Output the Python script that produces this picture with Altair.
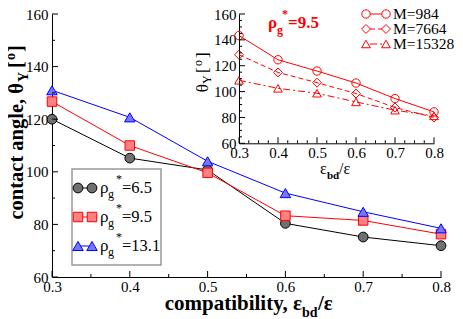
import altair as alt
import pandas as pd

# ---------------- data ----------------
compat = [0.3, 0.4, 0.5, 0.6, 0.7, 0.8]
rho_6_5 = [120.0, 105.2, 100.7, 80.4, 75.2, 71.9]
rho_9_5 = [126.7, 110.0, 99.6, 83.3, 81.5, 76.3]
rho_13_1 = [131.0, 120.7, 104.0, 91.9, 84.8, 78.5]

m_984 = [143.3, 124.6, 115.9, 106.6, 94.6, 84.3]
m_7664 = [128.5, 114.8, 106.9, 98.5, 87.7, 80.0]
m_15328 = [108.7, 102.5, 98.7, 92.0, 85.6, 81.2]

main_y_major = [60, 80, 100, 120, 140, 160]
main_y_minor = [70, 90, 110, 130, 150]
main_x_major = [0.3, 0.4, 0.5, 0.6, 0.7, 0.8]
main_x_minor = [0.35, 0.45, 0.55, 0.65, 0.75]
inset_y_minor = [65, 70, 75, 85, 90, 95, 105, 110, 115, 125, 130, 135, 145, 150, 155]
inset_x_minor = [0.325, 0.35, 0.375, 0.425, 0.45, 0.475, 0.525, 0.55, 0.575,
                 0.625, 0.65, 0.675, 0.725, 0.75, 0.775]

main_labels = ["=6.5", "=9.5", "=13.1"]
inset_labels = ["M=984", "M=7664", "M=15328"]

SERIF = "Liberation Serif, Times New Roman, Times, serif"
W, H = 389, 263
IX0, IX1 = 187, 382        # inset x range (px)
IY0, IY1 = 129.3, 0.0      # inset y range (px, bottom -> top)

dummy = pd.DataFrame({"a": [0]})


def txt(s, x, y, size, bold=False, color="black", angle=0, align="left"):
    return alt.Chart(dummy).mark_text(
        text=s, fontSize=size, fontWeight="bold" if bold else "normal",
        color=color, angle=angle, align=align, baseline="alphabetic", font=SERIF
    ).encode(x=alt.value(x), y=alt.value(y))


# ---------------- main scales / axes ----------------
xs_main = alt.Scale(domain=[0.3, 0.8], nice=False, zero=False)
ys_main = alt.Scale(domain=[60, 160], nice=False, zero=False)
ax_common = dict(ticks=False, tickSize=0, grid=False, title=None, labelFont=SERIF,
                 labelFontSize=15, labelColor="black", domainColor="black",
                 domainWidth=1, labelFlush=False, labelOverlap=False)
ax_x_main = alt.Axis(orient="bottom", values=main_x_major, format=".1f",
                     labelPadding=2, **ax_common)
ax_y_main = alt.Axis(orient="left", values=main_y_major, format="d",
                     labelPadding=4, **ax_common)


def main_series(vals, stroke, fill, shape, size):
    df = pd.DataFrame({"x": compat, "y": vals})
    base = alt.Chart(df).encode(
        x=alt.X("x:Q", scale=xs_main, axis=ax_x_main),
        y=alt.Y("y:Q", scale=ys_main, axis=ax_y_main),
    )
    line = base.mark_line(color=stroke, strokeWidth=1)
    pts = base.mark_point(shape=shape, filled=True, fill=fill, stroke=stroke,
                          strokeWidth=1, size=size, opacity=1)
    return [line, pts]


main_styles = [
    (rho_6_5, "black", "#707070", "circle", 95),
    (rho_9_5, "#ff0000", "#ff8080", "square", 90),
    (rho_13_1, "#0000ff", "#7878ff", "triangle-up", 110),
]

main_layers = []
for vals, st, fl, sh, sz in main_styles:
    main_layers += main_series(vals, st, fl, sh, sz)


def tick_df(vals):
    return pd.DataFrame({"v": vals})


# main ticks (inward)
main_layers.append(alt.Chart(tick_df(main_y_major)).mark_rule(color="black").encode(
    y=alt.Y("v:Q", scale=ys_main, axis=ax_y_main), x=alt.value(0), x2=alt.value(6)))
main_layers.append(alt.Chart(tick_df(main_y_minor)).mark_rule(color="black").encode(
    y=alt.Y("v:Q", scale=ys_main, axis=ax_y_main), x=alt.value(0), x2=alt.value(3)))
main_layers.append(alt.Chart(tick_df(main_x_major)).mark_rule(color="black").encode(
    x=alt.X("v:Q", scale=xs_main, axis=ax_x_main), y=alt.value(H), y2=alt.value(H - 6)))
main_layers.append(alt.Chart(tick_df(main_x_minor)).mark_rule(color="black").encode(
    x=alt.X("v:Q", scale=xs_main, axis=ax_x_main), y=alt.value(H), y2=alt.value(H - 3)))

# main legend
main_layers.append(alt.Chart(dummy).mark_rect(fill="white", stroke="#999999", strokeWidth=1.5).encode(
    x=alt.value(20), x2=alt.value(109), y=alt.value(155), y2=alt.value(251)))
for i, (lab, (vals, st, fl, sh, sz)) in enumerate(zip(main_labels, main_styles)):
    ry = 174 + 29 * i
    main_layers.append(alt.Chart(dummy).mark_rule(color=st, strokeWidth=1).encode(
        x=alt.value(26), x2=alt.value(40), y=alt.value(ry)))
    for mx in (26, 40):
        main_layers.append(alt.Chart(dummy).mark_point(
            shape=sh, filled=True, fill=fl, stroke=st, strokeWidth=1, size=sz, opacity=1
        ).encode(x=alt.value(mx), y=alt.value(ry)))
    main_layers.append(txt("ρ", 48, ry + 5, 17))
    main_layers.append(txt("g", 56, ry + 10, 12))
    main_layers.append(txt("*", 64, ry - 5, 12))
    main_layers.append(txt(lab, 70, ry + 5, 16.5))

# main axis titles
main_layers.append(txt("compatibility, ε", 250, 296, 21, bold=True, align="right"))
main_layers.append(txt("bd", 250, 303, 14, bold=True))
main_layers.append(txt("/ε", 266, 296, 21, bold=True))

main_layers.append(txt("contact angle, θ", -29, 69, 20.5, bold=True, angle=270, align="right"))
main_layers.append(txt("Y", -24, 68, 14, bold=True, angle=270))
main_layers.append(txt("[", -29, 54, 20.5, bold=True, angle=270))
main_layers.append(txt("o", -37, 46, 14, bold=True, angle=270))
main_layers.append(txt("]", -29, 38, 20.5, bold=True, angle=270))

main_group = alt.layer(*main_layers)

# ---------------- inset ----------------
xs_in = alt.Scale(domain=[0.3, 0.8], range=[IX0, IX1], nice=False, zero=False)
ys_in = alt.Scale(domain=[60, 160], range=[IY0, IY1], nice=False, zero=False)
ax_x_in = alt.Axis(orient="bottom", offset=-(H - IY0), values=main_x_major, format=".1f",
                   labelPadding=2, **ax_common)
ax_y_in = alt.Axis(orient="left", offset=-IX0, values=main_y_major, format="d",
                   labelPadding=3, **ax_common)

inset_styles = [
    (m_984, "circle", 70, []),
    (m_7664, "diamond", 80, [5, 3]),
    (m_15328, "triangle-up", 75, [7, 3, 2, 3]),
]
RED = "#ff0000"
inset_layers = []
for vals, sh, sz, dash in inset_styles:
    df = pd.DataFrame({"x": compat, "y": vals})
    base = alt.Chart(df).encode(
        x=alt.X("x:Q", scale=xs_in, axis=ax_x_in),
        y=alt.Y("y:Q", scale=ys_in, axis=ax_y_in),
    )
    if dash:
        inset_layers.append(base.mark_line(color=RED, strokeWidth=1, strokeDash=dash))
    else:
        inset_layers.append(base.mark_line(color=RED, strokeWidth=1))
    inset_layers.append(base.mark_point(shape=sh, filled=False, stroke=RED,
                                        strokeWidth=1, size=sz, opacity=1))

inset_layers.append(alt.Chart(tick_df(main_y_major)).mark_rule(color="black").encode(
    y=alt.Y("v:Q", scale=ys_in, axis=ax_y_in), x=alt.value(IX0), x2=alt.value(IX0 + 6)))
inset_layers.append(alt.Chart(tick_df(inset_y_minor)).mark_rule(color="black").encode(
    y=alt.Y("v:Q", scale=ys_in, axis=ax_y_in), x=alt.value(IX0), x2=alt.value(IX0 + 3)))
inset_layers.append(alt.Chart(tick_df(main_x_major)).mark_rule(color="black").encode(
    x=alt.X("v:Q", scale=xs_in, axis=ax_x_in), y=alt.value(IY0), y2=alt.value(IY0 - 6)))
inset_layers.append(alt.Chart(tick_df(inset_x_minor)).mark_rule(color="black").encode(
    x=alt.X("v:Q", scale=xs_in, axis=ax_x_in), y=alt.value(IY0), y2=alt.value(IY0 - 3)))

# inset legend
for i, (lab, (vals, sh, sz, dash)) in enumerate(zip(inset_labels, inset_styles)):
    ry = 0 + 15 * i
    if dash:
        inset_layers.append(alt.Chart(dummy).mark_rule(color=RED, strokeWidth=1, strokeDash=dash).encode(
            x=alt.value(318), x2=alt.value(330), y=alt.value(ry)))
    else:
        inset_layers.append(alt.Chart(dummy).mark_rule(color=RED, strokeWidth=1).encode(
            x=alt.value(318), x2=alt.value(330), y=alt.value(ry)))
    for mx in (314, 334):
        inset_layers.append(alt.Chart(dummy).mark_point(
            shape=sh, filled=False, stroke=RED, strokeWidth=1, size=sz, opacity=1
        ).encode(x=alt.value(mx), y=alt.value(ry)))
    inset_layers.append(txt(lab, 341, ry + 5, 15.5))

# inset annotation
inset_layers.append(txt("ρ", 216, 14, 17, bold=True, color=RED))
inset_layers.append(txt("g", 225, 20, 12, bold=True, color=RED))
inset_layers.append(txt("*", 230, 4, 12, bold=True, color=RED))
inset_layers.append(txt("=9.5", 236, 14, 17, bold=True, color=RED))

# inset axis titles
inset_layers.append(txt("ε", 268, 160, 16))
inset_layers.append(txt("bd", 275, 165, 11, bold=True))
inset_layers.append(txt("/ε", 287, 160, 16))

inset_layers.append(txt("θ", 156, 70, 17, angle=270, align="right"))
inset_layers.append(txt("Y", 159, 70, 12, angle=270))
inset_layers.append(txt("[", 156, 59, 17, angle=270))
inset_layers.append(txt("o", 150, 52, 12, angle=270))
inset_layers.append(txt("]", 156, 44, 17, angle=270))

inset_group = alt.layer(*inset_layers)

chart = alt.layer(main_group, inset_group).resolve_scale(
    x="independent", y="independent"
).properties(
    width=W, height=H, autosize="none",
    padding={"left": 44, "top": 6, "right": 14, "bottom": 42},
).configure_view(stroke=None)

chart.save("out.html", embed_options={"renderer": "svg", "actions": False})
